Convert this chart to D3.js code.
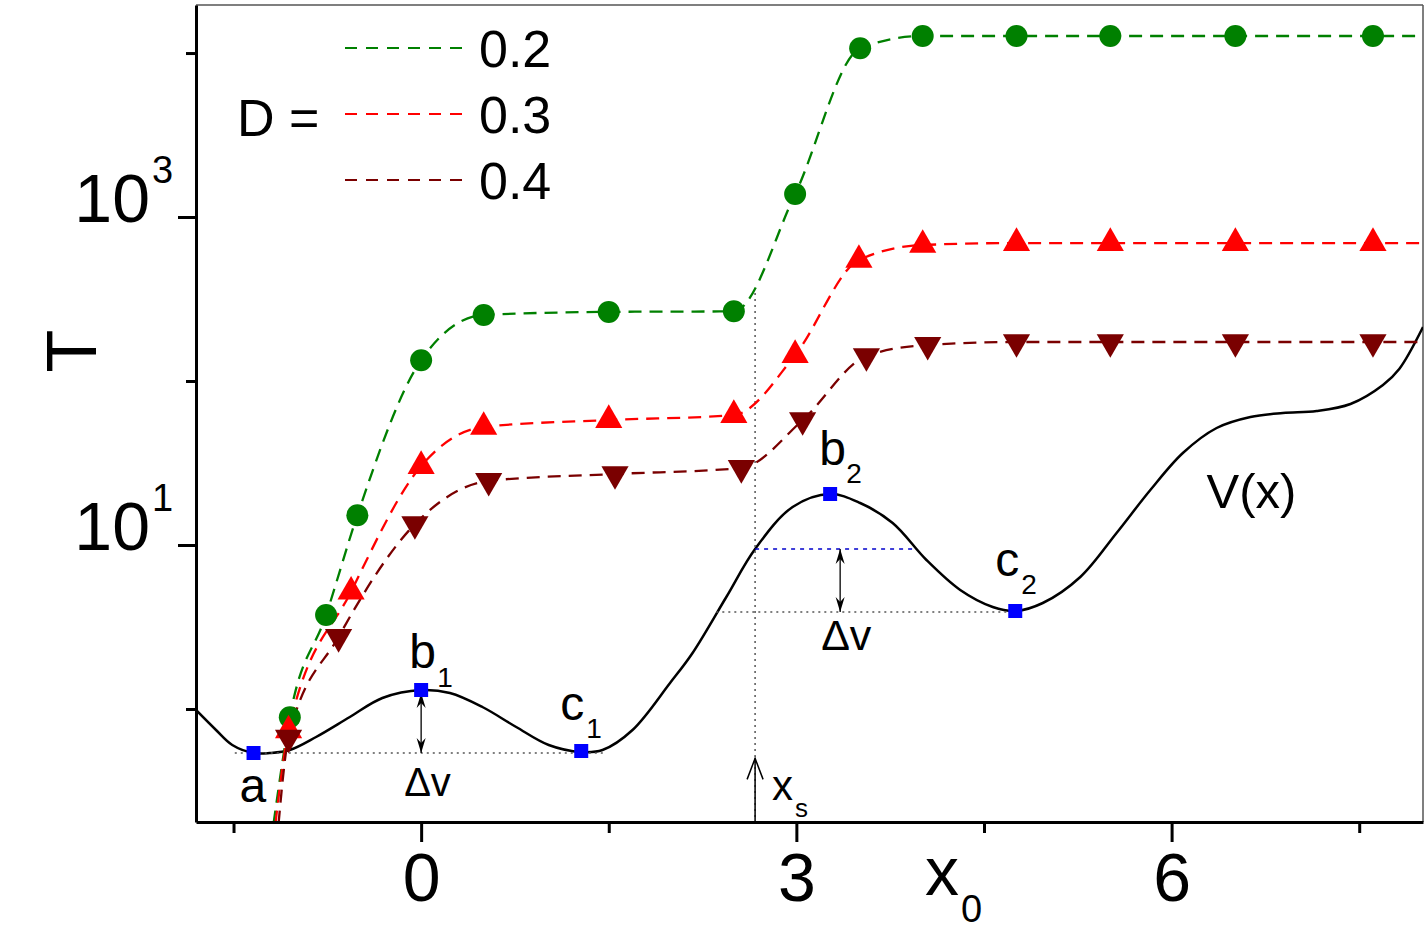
<!DOCTYPE html>
<html>
<head>
<meta charset="utf-8">
<script src="https://cdn.jsdelivr.net/npm/d3@7"></script>
<style>
  body { margin: 0; background: #fff; }
  svg { display: block; }
  text { font-family: "Liberation Sans", Arial, sans-serif; fill: #000; }
</style>
</head>
<body>
<svg id="chart" width="1428" height="944"></svg>
<script>
// escape times T(x0), one series per noise intensity D
const seriesNames = ["0.2", "0.3", "0.4"];
const xD02 = [-1.05, -0.76, -0.51, 0, 0.50, 1.50, 2.50, 2.99, 3.51, 4.01, 4.76, 5.51, 6.51, 7.61];
const tD02 = [0.89, 3.74, 15.2, 134, 253, 264, 266, 1380, 10700, 12700, 12700, 12700, 12700, 12700];
const xD03 = [-1.06, -0.56, 0, 0.50, 1.50, 2.50, 2.99, 3.50, 4.01, 4.76, 5.51, 6.51, 7.61];
const tD03 = [0.74, 5.2, 30.3, 52.5, 57.8, 62, 144, 547, 675, 694, 694, 694, 694];
const xD04 = [-1.06, -0.66, -0.05, 0.54, 1.55, 2.56, 3.05, 3.56, 4.05, 4.76, 5.51, 6.51, 7.61];
const tD04 = [0.67, 2.75, 13.4, 24.6, 27.1, 29.5, 57.8, 142, 166, 173, 173, 173, 173];
// where each dashed fit leaves the bottom of the plot
const fitStartX = [-1.18, -1.165, -1.14];

// potential V(x), arbitrary units
const potX = [-1.8, -1.64, -1.51, -1.34, -1.21, -1.05, -0.84, -0.57, -0.31, 0, 0.23, 0.49, 0.76, 1.02, 1.28,
  1.45, 1.69, 1.99, 2.17, 2.44, 2.67, 2.97, 3.27, 3.51, 3.77, 4.04, 4.31, 4.57, 4.75, 4.97, 5.27, 5.56,
  5.83, 6.09, 6.36, 6.63, 6.89, 7.16, 7.43, 7.69, 7.82, 8.01];
const potV = [0.43, 0.23, 0.08, 0.0, 0.0, 0.03, 0.16, 0.36, 0.55, 0.63, 0.60, 0.46, 0.26, 0.08, 0.01,
  0.03, 0.23, 0.70, 1.00, 1.56, 2.04, 2.46, 2.59, 2.50, 2.30, 1.93, 1.63, 1.46, 1.42, 1.50, 1.76, 2.20,
  2.63, 3.00, 3.25, 3.36, 3.40, 3.42, 3.49, 3.68, 3.84, 4.26];

// special points on V(x)
const ptNames = ["a", "b1", "c1", "b2", "c2"];
const ptX = [-1.34, 0, 1.28, 3.27, 4.75];
const ptV = [0.0, 0.63, 0.02, 2.59, 1.42];

const xTicksMajor = [0, 3, 6];
const xTicksMinor = [-1.5, 1.5, 4.5, 7.5];
const yTicksMajor = [10, 1000];
const yTicksMinor = [1, 100, 10000];
const yTickLabels = ["1", "3"];

const xs = 2.67;      // x_s
const dvLevel2 = 2.04; // V at x_s

const colors = ["#008000", "#ff0000", "#7a0000"];

const margin = { top: 5, left: 196 };
const W = 1227, H = 817;

const svg = d3.select("#chart");
const g = svg.append("g").attr("transform", `translate(${margin.left},${margin.top})`);

const x = d3.scaleLinear().domain([-1.8, 8.01]).range([0, W]);
const y = d3.scaleLog().domain([0.2046, 19630]).range([H, 0]);
const v = d3.scaleLinear().domain([-0.69, 7.48]).range([H, 0]);

svg.append("defs").append("clipPath").attr("id", "plot")
  .append("rect").attr("width", W).attr("height", H);

// frame top/right
g.append("line").attr("x1", 0).attr("x2", W).attr("y1", 0).attr("y2", 0)
  .attr("stroke", "#555").attr("stroke-width", 1.5);
g.append("line").attr("x1", W).attr("x2", W).attr("y1", 0).attr("y2", H)
  .attr("stroke", "#555").attr("stroke-width", 1.5);

// potential
g.append("path")
  .datum(potX.map((d, i) => [d, potV[i]]))
  .attr("clip-path", "url(#plot)")
  .attr("fill", "none").attr("stroke", "#000").attr("stroke-width", 2.5)
  .attr("d", d3.line().x(d => x(d[0])).y(d => v(d[1])).curve(d3.curveCatmullRom.alpha(0.5)));

// dotted guides
const guides = g.append("g").attr("fill", "none").attr("stroke-width", 1.5);
guides.append("line").attr("x1", x(-1.49)).attr("x2", x(1.48)).attr("y1", v(0)).attr("y2", v(0))
  .attr("stroke", "#555").attr("stroke-dasharray", "2,4");
guides.append("line").attr("x1", x(xs)).attr("x2", x(xs)).attr("y1", y(344)).attr("y2", H)
  .attr("stroke", "#555").attr("stroke-dasharray", "2,4");
guides.append("line").attr("x1", x(2.36)).attr("x2", x(ptX[4])).attr("y1", v(1.41)).attr("y2", v(1.41))
  .attr("stroke", "#555").attr("stroke-dasharray", "2,4");
guides.append("line").attr("x1", x(xs)).attr("x2", x(3.96)).attr("y1", v(dvLevel2)).attr("y2", v(dvLevel2))
  .attr("stroke", "#0000cc").attr("stroke-dasharray", "4,5");

// arrow heads
const defs = svg.select("defs");
defs.append("marker").attr("id", "head").attr("viewBox", "-16 -6 18 12")
  .attr("refX", 0).attr("refY", 0).attr("markerWidth", 18).attr("markerHeight", 12)
  .attr("markerUnits", "userSpaceOnUse").attr("orient", "auto-start-reverse")
  .append("path").attr("d", "M0,0 L-15,-4.5 L-10,0 L-15,4.5 Z").attr("fill", "#000");
defs.append("marker").attr("id", "open").attr("viewBox", "-22 -10 24 20")
  .attr("refX", 0).attr("refY", 0).attr("markerWidth", 24).attr("markerHeight", 20)
  .attr("markerUnits", "userSpaceOnUse").attr("orient", "auto")
  .append("path").attr("d", "M-21,-8 L0,0 L-21,8").attr("fill", "none").attr("stroke", "#000").attr("stroke-width", 1.5);

g.append("line").attr("x1", x(0)).attr("x2", x(0)).attr("y1", v(0.60)).attr("y2", v(0.0))
  .attr("stroke", "#000").attr("stroke-width", 1.3)
  .attr("marker-start", "url(#head)").attr("marker-end", "url(#head)");
g.append("line").attr("x1", x(3.35)).attr("x2", x(3.35)).attr("y1", v(dvLevel2)).attr("y2", v(1.41))
  .attr("stroke", "#000").attr("stroke-width", 1.3)
  .attr("marker-start", "url(#head)").attr("marker-end", "url(#head)");
g.append("line").attr("x1", x(xs)).attr("x2", x(xs)).attr("y1", H).attr("y2", y(0.5))
  .attr("stroke", "#000").attr("stroke-width", 1.5).attr("marker-end", "url(#open)");

// dashed fits and markers
const allX = [xD02, xD03, xD04];
const allT = [tD02, tD03, tD04];
const fitLine = d3.line().x(d => x(d[0])).y(d => y(d[1])).curve(d3.curveMonotoneX);

allX.forEach((xsArr, s) => {
  const pts = xsArr.map((d, i) => [d, allT[s][i]]);
  const fit = [[fitStartX[s], 0.2], ...pts, [8.01, allT[s][allT[s].length - 1]]];
  g.append("path").datum(fit)
    .attr("clip-path", "url(#plot)")
    .attr("fill", "none").attr("stroke", colors[s]).attr("stroke-width", 2.3)
    .attr("stroke-dasharray", "13,8")
    .attr("d", fitLine);
});

allX.forEach((xsArr, s) => {
  const pts = xsArr.map((d, i) => [d, allT[s][i]]);
  const sel = g.append("g").selectAll("path").data(pts).join("path")
    .attr("fill", colors[s]);
  if (s === 0) {
    sel.attr("d", d3.symbol(d3.symbolCircle, Math.PI * 121))
      .attr("transform", d => `translate(${x(d[0])},${y(d[1])})`);
  } else if (s === 1) {
    sel.attr("d", d3.symbol(d3.symbolTriangle, 320))
      .attr("transform", d => `translate(${x(d[0])},${y(d[1])})`);
  } else {
    sel.attr("d", d3.symbol(d3.symbolTriangle, 320))
      .attr("transform", d => `translate(${x(d[0])},${y(d[1])}) rotate(180)`);
  }
});

// special points
g.append("g").selectAll("path").data(ptX).join("path")
  .attr("d", d3.symbol(d3.symbolSquare, 196))
  .attr("fill", "#0000ff")
  .attr("transform", (d, i) => `translate(${x(d)},${v(ptV[i])})`);

// their labels: [letter dx, dy, subscript dx, dy]
const ptLabelOff = [[-14, 49, 0, 0], [-12, -22, 16, -3], [-21, -31, 5, -13], [-11, -29, 16, -11], [-20, -35, 6, -17]];
ptNames.forEach((name, i) => {
  const px = x(ptX[i]), py = v(ptV[i]);
  const o = ptLabelOff[i];
  g.append("text").attr("x", px + o[0]).attr("y", py + o[1]).attr("font-size", 48).text(name[0]);
  if (name.length > 1) {
    g.append("text").attr("x", px + o[2]).attr("y", py + o[3]).attr("font-size", 28).text(name.slice(1));
  }
});

g.append("text").attr("x", x(0) - 17).attr("y", v(0) + 43).attr("font-size", 40).text("\u0394v");
g.append("text").attr("x", x(3.35) - 19).attr("y", v(1.41) + 38).attr("font-size", 43).text("\u0394v");
g.append("text").attr("x", x(xs) + 17).attr("y", H - 22).attr("font-size", 42).text("x");
g.append("text").attr("x", x(xs) + 40).attr("y", H - 5).attr("font-size", 26).text("s");
g.append("text").attr("x", x(6.28)).attr("y", v(2.45)).attr("font-size", 49).text("V(x)");

// axes
const axX = g.append("g").attr("transform", `translate(0,${H})`);
axX.call(d3.axisBottom(x).tickValues(xTicksMajor).tickSize(20).tickSizeOuter(0).tickPadding(11).tickFormat(d3.format("d")));
axX.append("g").call(d3.axisBottom(x).tickValues(xTicksMinor).tickSize(11).tickSizeOuter(0).tickFormat(""))
  .select(".domain").remove();
axX.selectAll("line").attr("stroke", "#000").attr("stroke-width", 3);
axX.select(".domain").attr("stroke", "#000").attr("stroke-width", 3);
axX.selectAll("text").attr("font-size", 68).attr("font-family", "Liberation Sans, Arial, sans-serif");

const axY = g.append("g");
axY.call(d3.axisLeft(y).tickValues(yTicksMajor).tickSize(18).tickSizeOuter(0).tickFormat(""));
axY.append("g").call(d3.axisLeft(y).tickValues(yTicksMinor).tickSize(10).tickSizeOuter(0).tickFormat(""))
  .select(".domain").remove();
axY.selectAll("line").attr("stroke", "#000").attr("stroke-width", 3);
axY.select(".domain").attr("stroke", "#000").attr("stroke-width", 3);

yTicksMajor.forEach((t, i) => {
  g.append("text").attr("x", -46).attr("y", y(t) + 5).attr("text-anchor", "end")
    .attr("font-size", 68).text("10");
  g.append("text").attr("x", -44).attr("y", y(t) - 34)
    .attr("font-size", 38).text(yTickLabels[i]);
});

// axis titles
svg.append("text").attr("transform", "translate(96,351) rotate(-90)")
  .attr("text-anchor", "middle").attr("font-size", 70).text("T");
svg.append("text").attr("x", 925).attr("y", 895).attr("font-size", 68).text("x");
svg.append("text").attr("x", 961).attr("y", 922).attr("font-size", 38).text("0");

// legend
const legY = [48, 114, 180];
svg.append("text").attr("x", 237).attr("y", 136).attr("font-size", 52).text("D =");
seriesNames.forEach((name, i) => {
  svg.append("line").attr("x1", 345).attr("x2", 464).attr("y1", legY[i]).attr("y2", legY[i])
    .attr("stroke", colors[i]).attr("stroke-width", 2.2).attr("stroke-dasharray", "12,9");
  svg.append("text").attr("x", 479).attr("y", legY[i] + 19).attr("font-size", 52).text(name);
});
</script>
</body>
</html>
